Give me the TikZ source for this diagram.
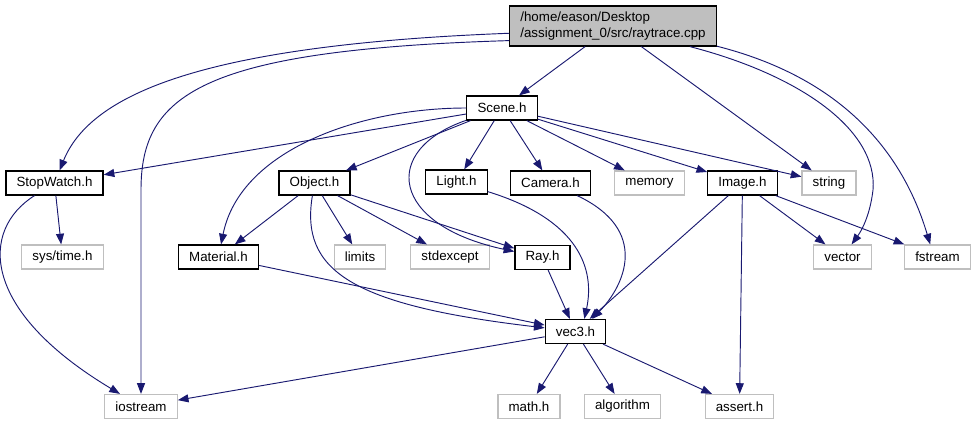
\documentclass[tikz,border=0pt]{standalone}
\usepackage{fontspec}
\setmainfont{Liberation Sans}
\usetikzlibrary{arrows.meta,positioning}
\definecolor{navyline}{RGB}{25,25,112}
\definecolor{boxgray}{RGB}{191,191,191}

\begin{document}
\begin{tikzpicture}[
		x=0.75pt, y=-0.75pt,
		every node/.style={font=\normalsize, inner xsep=8pt, minimum height=18pt, line width=0.9pt},
		localfile/.style={draw=black, fill=white},
		sysfile/.style={draw=boxgray, fill=white},
		mainfile/.style={draw=black, fill=boxgray, align=left, minimum height=30pt},
		dep/.style={draw=navyline, line width=0.7pt, -{Triangle[length=8pt,width=6pt]}}
		]
		\useasboundingbox (0,0) rectangle (976,425);
		
		% Source file
		\node[mainfile] (main) at (613,26) {/home/eason/Desktop\\/assignment\_0/src/raytrace.cpp};
		
		% First level
		\node[localfile] (scene) at (502,108) {Scene.h};
		
		% Second level
		\node[localfile] (stopwatch) at (54.5,183) {StopWatch.h};
		\node[localfile] (object) at (314.5,183) {Object.h};
		\node[localfile] (light) at (456.5,182) {Light.h};
		\node[localfile] (camera) at (550.5,183) {Camera.h};
		\node[sysfile] (memory) at (649.5,183) {memory};
		\node[localfile] (image) at (742.5,183) {Image.h};
		\node[sysfile] (string) at (829,183) {string};
		
		% Third level
		\node[sysfile] (systime) at (62.5,257) {sys/time.h};
		\node[localfile] (material) at (218.5,257) {Material.h};
		\node[sysfile] (limits) at (360,257) {limits};
		\node[sysfile] (stdexcept) at (450,257) {stdexcept};
		\node[localfile] (ray) at (542.5,257.5) {Ray.h};
		\node[sysfile] (vector) at (842.5,257) {vector};
		\node[sysfile] (fstream) at (937.5,257) {fstream};
		
		% Fourth level
		\node[localfile] (vec3) at (575.5,331.5) {vec3.h};
		
		% Bottom level
		\node[sysfile] (iostream) at (141,406.5) {iostream};
		\node[sysfile] (mathh) at (529,406.5) {math.h};
		\node[sysfile] (algorithm) at (622.5,406.5) {algorithm};
		\node[sysfile] (assert) at (739.5,406.5) {assert.h};
		
		% Arrows from raytrace.cpp
		\draw[dep] (main) -- (scene);
		\draw[dep] (main.184) .. controls (200,45) and (90,95) .. (stopwatch);
		\draw[dep] (main.188) .. controls (200,50) and (141,95) .. (141,190) -- (iostream);
		\draw[dep] (main) -- (string);
		\draw[dep] (main.345) .. controls (800,75) and (878,130) .. (873,190)
		.. controls (870,215) and (862,230) .. (vector);
		\draw[dep] (main.349) .. controls (850,80) and (905,160) .. (fstream.120);
		
		% Arrows from Scene.h
		\draw[dep] (scene) -- (stopwatch);
		\draw[dep] (scene) .. controls (360,108) and (240,150) .. (material);
		\draw[dep] (scene) -- (object);
		\draw[dep] (scene) .. controls (380,150) and (390,225) .. (ray);
		\draw[dep] (scene) -- (light);
		\draw[dep] (scene) -- (camera);
		\draw[dep] (scene) -- (memory);
		\draw[dep] (scene) -- (image);
		\draw[dep] (scene) -- (string);
		
		% Arrows from StopWatch.h
		\draw[dep] (stopwatch) -- (systime);
		\draw[dep] (stopwatch) .. controls (-20,230) and (-20,310) .. (iostream);
		
		% Arrows from Object.h
		\draw[dep] (object) -- (material);
		\draw[dep] (object) .. controls (300,270) and (350,305) .. (vec3);
		\draw[dep] (object) -- (limits);
		\draw[dep] (object) -- (stdexcept);
		\draw[dep] (object) -- (ray);
		
		% Arrows into vec3.h
		\draw[dep] (material) -- (vec3);
		\draw[dep] (light) .. controls (580,220) and (595,270) .. (vec3.55);
		\draw[dep] (camera) .. controls (650,230) and (625,285) .. (vec3.37);
		\draw[dep] (ray) -- (vec3);
		
		% Arrows from Image.h
		\draw[dep] (image) -- (vec3);
		\draw[dep] (image) -- (assert);
		\draw[dep] (image) -- (vector);
		\draw[dep] (image) -- (fstream);
		
		% Arrows from vec3.h
		\draw[dep] (vec3) -- (iostream);
		\draw[dep] (vec3) -- (mathh);
		\draw[dep] (vec3) -- (algorithm);
		\draw[dep] (vec3) -- (assert);
		
	\end{tikzpicture}
\end{document}
